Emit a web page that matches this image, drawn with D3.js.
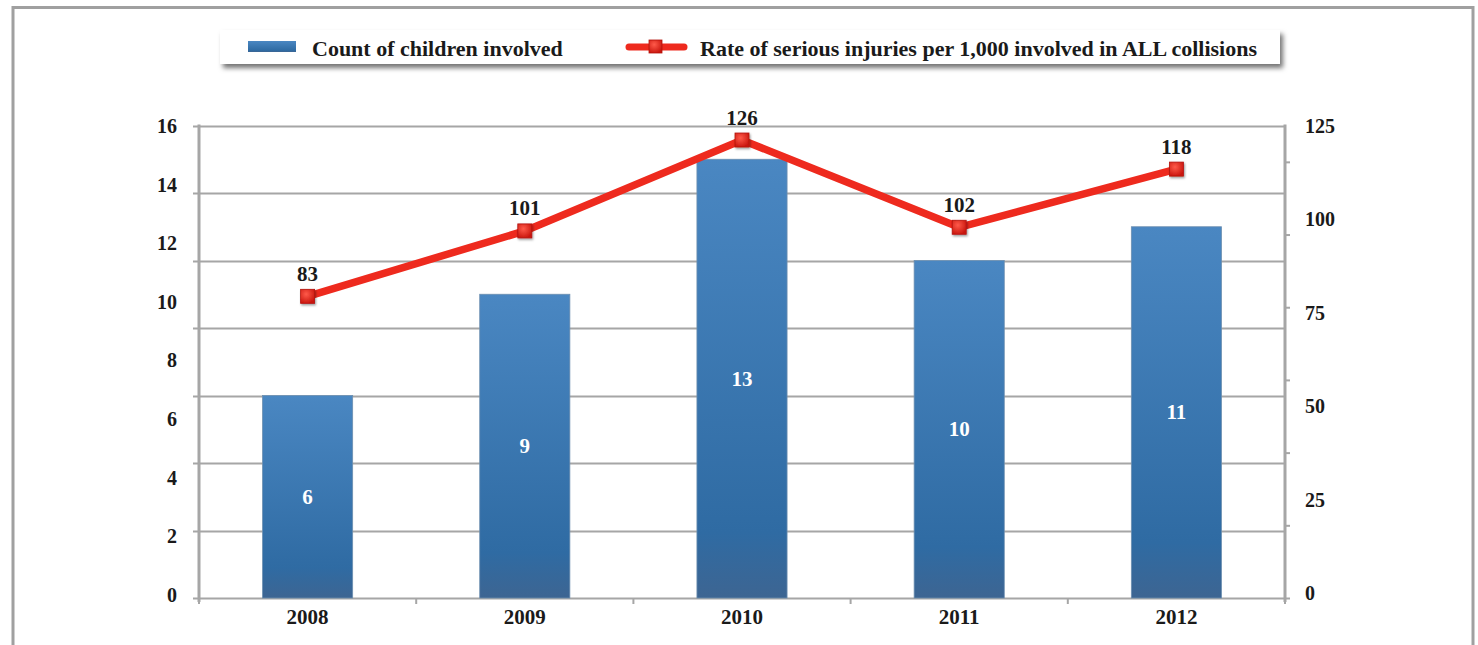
<!DOCTYPE html>
<html>
<head>
<meta charset="utf-8">
<script src="https://cdn.jsdelivr.net/npm/d3@7"></script>
<style>
  html, body { margin: 0; padding: 0; background: #fff; }
  svg { display: block; }
  text { font-family: "Liberation Serif", "DejaVu Serif", serif; font-weight: bold; fill: #1a1a1a; }
</style>
</head>
<body>
<svg id="chart" width="1478" height="645"></svg>
<script>
// Chart data
const years = ["2008", "2009", "2010", "2011", "2012"];
const childCounts = [6, 9, 13, 10, 11];
const seriousRate = [83, 101, 126, 102, 118];
const leftTickLabels = [0, 2, 4, 6, 8, 10, 12, 14, 16];
const rightTickLabels = [0, 25, 50, 75, 100, 125];
const gridValues = [0, 2, 4, 6, 8, 10, 12, 14];
const rateTickValues = [0, 20, 40, 60, 80, 100, 120];
const legendLabels = ["Count of children involved", "Rate of serious injuries per 1,000 involved in ALL collisions"];

const svg = d3.select("#chart");
const plot = { left: 199, right: 1285, top: 125.5, bottom: 598 };

const defs = svg.append("defs");
const barGrad = defs.append("linearGradient").attr("id", "barGrad").attr("x1", 0).attr("y1", 0).attr("x2", 0).attr("y2", 1);
barGrad.append("stop").attr("offset", "0%").attr("stop-color", "#4a87c2");
barGrad.append("stop").attr("offset", "85%").attr("stop-color", "#2f6ba3");
barGrad.append("stop").attr("offset", "100%").attr("stop-color", "#3d6592");

const mkGrad = defs.append("radialGradient").attr("id", "mkGrad").attr("cx", "40%").attr("cy", "35%").attr("r", "70%");
mkGrad.append("stop").attr("offset", "0%").attr("stop-color", "#ff5a4a");
mkGrad.append("stop").attr("offset", "100%").attr("stop-color", "#c8140c");

const shadow = defs.append("filter").attr("id", "shadow").attr("x", "-5%").attr("y", "-30%").attr("width", "110%").attr("height", "170%");
shadow.append("feDropShadow").attr("dx", 3).attr("dy", 4).attr("stdDeviation", 2.5).attr("flood-color", "#000").attr("flood-opacity", 0.55);

const mkShadow = defs.append("filter").attr("id", "mkShadow").attr("x", "-50%").attr("y", "-50%").attr("width", "200%").attr("height", "200%");
mkShadow.append("feDropShadow").attr("dx", 1).attr("dy", 1.5).attr("stdDeviation", 1).attr("flood-color", "#000").attr("flood-opacity", 0.4);

// Outer frame
svg.append("rect").attr("x", 13).attr("y", 7.5).attr("width", 1460).attr("height", 660)
  .attr("fill", "#fff").attr("stroke", "#a0a0a0").attr("stroke-width", 3);

// Scales
const x = d3.scaleBand().domain(years).range([plot.left, plot.right]).paddingInner(0.585).paddingOuter(0.2925);
const xOuter = d3.scaleBand().domain(years).range([plot.left, plot.right]);
const yCount = d3.scaleLinear().domain([0, 14]).range([plot.bottom, plot.top]);
const yCountLabel = d3.scaleLinear().domain([0, 16]).range([595, 126]);
const yRate = d3.scaleLinear().domain([0, 130]).range([plot.bottom, plot.top]);
const yRateLabel = d3.scaleLinear().domain([0, 125]).range([593, 126]);

const gridColor = "#a6a6a6";

// Horizontal gridlines (extend slightly left of the axis as tick marks)
svg.append("g").selectAll("line").data(gridValues).join("line")
  .attr("x1", plot.left - 6).attr("x2", plot.right)
  .attr("y1", d => Math.round(yCount(d)) + 0.5).attr("y2", d => Math.round(yCount(d)) + 0.5)
  .attr("stroke", gridColor).attr("stroke-width", 2);

// Bars
const bars = svg.append("g");
bars.selectAll("rect").data(years).join("rect")
  .attr("x", d => x(d)).attr("width", x.bandwidth())
  .attr("y", (d, i) => yCount(childCounts[i]))
  .attr("height", (d, i) => yCount(0) - yCount(childCounts[i]))
  .attr("fill", "url(#barGrad)").attr("stroke", "#6d8fb0").attr("stroke-width", 0.8);

bars.selectAll("text").data(years).join("text")
  .attr("x", d => x(d) + x.bandwidth() / 2)
  .attr("y", (d, i) => (yCount(childCounts[i]) + yCount(0)) / 2 + 7)
  .attr("text-anchor", "middle").attr("font-size", 21)
  .style("fill", "#fff")
  .text((d, i) => childCounts[i]);

// Left axis line and labels
svg.append("line").attr("x1", plot.left).attr("x2", plot.left).attr("y1", plot.top - 1).attr("y2", plot.bottom + 4)
  .attr("stroke", gridColor).attr("stroke-width", 3);
svg.append("g").attr("transform", `translate(${plot.left - 22},0)`)
  .call(d3.axisLeft(yCountLabel).tickValues(leftTickLabels).tickSize(0).tickPadding(0))
  .call(g => g.select(".domain").remove())
  .call(g => g.selectAll("text").attr("font-size", 20).attr("font-family", null).style("fill", "#1a1a1a"));

// Right axis
svg.append("line").attr("x1", plot.right).attr("x2", plot.right).attr("y1", plot.top - 1).attr("y2", plot.bottom + 4)
  .attr("stroke", gridColor).attr("stroke-width", 3);
svg.append("g").attr("transform", `translate(${plot.right},0)`)
  .call(d3.axisRight(yRate).tickValues(rateTickValues).tickSize(5).tickFormat(""))
  .call(g => g.select(".domain").remove())
  .call(g => g.selectAll("line").attr("stroke", gridColor).attr("stroke-width", 2));
svg.append("g").attr("transform", `translate(${plot.right + 20},0)`)
  .call(d3.axisRight(yRateLabel).tickValues(rightTickLabels).tickSize(0).tickPadding(0))
  .call(g => g.select(".domain").remove())
  .call(g => g.selectAll("text").attr("font-size", 20).attr("font-family", null).style("fill", "#1a1a1a"));

// Bottom axis
svg.append("g").attr("transform", `translate(0,${plot.bottom})`)
  .call(d3.axisBottom(x).tickSize(0).tickPadding(11))
  .call(g => g.select(".domain").remove())
  .call(g => g.selectAll("text").attr("font-size", 21).attr("font-family", null).style("fill", "#1a1a1a"));
svg.append("g").selectAll("line").data(years.concat(["end"])).join("line")
  .attr("x1", (d, i) => plot.left + i * xOuter.step()).attr("x2", (d, i) => plot.left + i * xOuter.step())
  .attr("y1", plot.bottom).attr("y2", plot.bottom + 6)
  .attr("stroke", gridColor).attr("stroke-width", 2);

// Rate line
const cx = d => x(d) + x.bandwidth() / 2;
const line = d3.line().x((d, i) => cx(years[i])).y(d => yRate(d));
svg.append("path").datum(seriousRate).attr("d", line)
  .attr("fill", "none").attr("stroke", "#ee2a1e").attr("stroke-width", 7.5).attr("stroke-linejoin", "miter");

svg.append("g").selectAll("rect").data(seriousRate).join("rect")
  .attr("x", (d, i) => cx(years[i]) - 7).attr("y", d => yRate(d) - 7)
  .attr("width", 14).attr("height", 14)
  .attr("fill", "url(#mkGrad)").attr("stroke", "#b3130c").attr("stroke-width", 0.8)
  .attr("filter", "url(#mkShadow)");

svg.append("g").selectAll("text").data(seriousRate).join("text")
  .attr("x", (d, i) => cx(years[i])).attr("y", d => yRate(d) - 15.5)
  .attr("text-anchor", "middle").attr("font-size", 21)
  .text(d => d);

// Legend
const legend = svg.append("g");
legend.append("rect").attr("x", 220).attr("y", 30).attr("width", 1060).attr("height", 34)
  .attr("fill", "#fff").attr("filter", "url(#shadow)");
legend.append("rect").attr("x", 248).attr("y", 41).attr("width", 48).attr("height", 11).attr("fill", "url(#barGrad)");
legend.append("text").attr("x", 312).attr("y", 55.5).attr("font-size", 22).text(legendLabels[0]);
legend.append("line").attr("x1", 629).attr("x2", 684).attr("y1", 47).attr("y2", 47)
  .attr("stroke", "#ee2a1e").attr("stroke-width", 7).attr("stroke-linecap", "round");
legend.append("rect").attr("x", 649).attr("y", 40).attr("width", 13).attr("height", 13)
  .attr("fill", "url(#mkGrad)").attr("stroke", "#b3130c").attr("stroke-width", 0.8);
legend.append("text").attr("x", 700).attr("y", 55.5).attr("font-size", 22).text(legendLabels[1]);
</script>
</body>
</html>
